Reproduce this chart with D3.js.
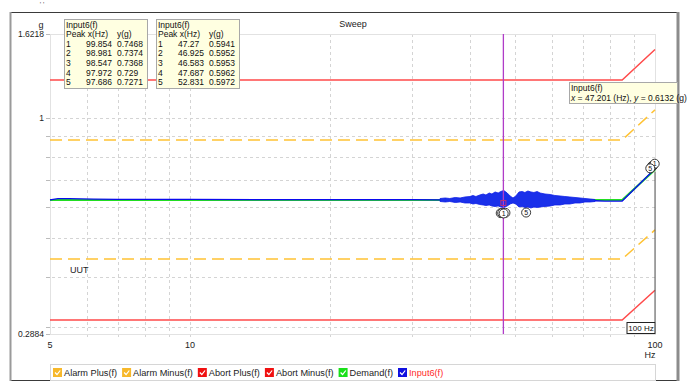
<!DOCTYPE html>
<html>
<head>
<meta charset="utf-8">
<script src="https://cdn.jsdelivr.net/npm/d3@7"></script>
<style>
body{margin:0;background:#fff}
svg{display:block;font-family:"Liberation Sans",Arial,sans-serif}
</style>
</head>
<body>
<script>

// profile break points (Hz) shared by demand and limit lines
var profFreq = [5, 85, 100];
var demandVal = [0.6237, 0.6237, 0.742];
var alarmPlusVal = [0.8811, 0.8811, 1.048];
var alarmMinusVal = [0.4441, 0.4441, 0.525];
var abortPlusVal = [1.2446, 1.2446, 1.484];
var abortMinusVal = [0.3126, 0.3126, 0.371];

// Input6 response, quiet parts
var inputFreq = [5, 5.2, 5.5, 6.2, 7, 10, 15, 20, 25, 30, 34.5, 40, 47.2, 55, 65, 74.3, 78, 85, 100];
var inputVal = [0.624, 0.629, 0.629, 0.627, 0.626, 0.626, 0.625, 0.625, 0.625, 0.625, 0.624, 0.622, 0.6132, 0.623, 0.623, 0.621, 0.62, 0.62, 0.7468];

// Input6 response, noisy band (upper / lower envelope)
var noiseFreq = [34.5, 35.4, 36.2, 37.2, 38.1, 39.0, 40.0, 40.6, 41.2, 42.0, 42.7, 43.3, 44.0, 44.6, 45.3, 46.0, 46.6, 47.3, 48.1, 48.8, 49.5, 50.2, 51.0, 51.8, 52.5, 53.3, 54.1, 54.9, 55.8, 56.6, 58.0, 59.5, 60.9, 62.5, 64.0, 65.6, 67.3, 69.0, 70.7, 72.5, 74.3];
var noiseHi = [0.6291, 0.6310, 0.6291, 0.6328, 0.6310, 0.6346, 0.6364, 0.6401, 0.6364, 0.6420, 0.6457, 0.6420, 0.6494, 0.6457, 0.6532, 0.6494, 0.6550, 0.6588, 0.6494, 0.6383, 0.6310, 0.6383, 0.6532, 0.6550, 0.6513, 0.6569, 0.6532, 0.6513, 0.6550, 0.6494, 0.6457, 0.6438, 0.6401, 0.6383, 0.6364, 0.6346, 0.6328, 0.6310, 0.6291, 0.6273, 0.6255];
var noiseLo = [0.6184, 0.6166, 0.6184, 0.6148, 0.6166, 0.6131, 0.6131, 0.6095, 0.6113, 0.6078, 0.6061, 0.6043, 0.6061, 0.6026, 0.6009, 0.6026, 0.5991, 0.5974, 0.6026, 0.6095, 0.6131, 0.6095, 0.5991, 0.6009, 0.5974, 0.5991, 0.5957, 0.5991, 0.5974, 0.5991, 0.6009, 0.6026, 0.6061, 0.6061, 0.6095, 0.6095, 0.6131, 0.6131, 0.6166, 0.6166, 0.6184];

// peak tables
var peakNo = [1, 2, 3, 4, 5];
var peaksAFreq = [99.854, 98.981, 98.547, 97.972, 97.686];
var peaksAVal = [0.7468, 0.7374, 0.7368, 0.729, 0.7271];
var peaksBFreq = [47.27, 46.925, 46.583, 47.687, 52.831];
var peaksBVal = [0.5941, 0.5952, 0.5953, 0.5962, 0.5972];

var cursorFreq = 47.201, cursorVal = 0.6132;
var refFreq = 100;

var xLabels = [5, 10, 100];
var yLabels = [1.6218, 1, 0.2884];

var legendNames = ["Alarm Plus(f)", "Alarm Minus(f)", "Abort Plus(f)", "Abort Minus(f)", "Demand(f)", "Input6(f)"];
var legendColors = ["#f7b82a", "#f7b82a", "#f01010", "#f01010", "#19e019", "#1010e0"];


var W = 690, H = 386;
var svg = d3.select("body").append("svg").attr("width", W).attr("height", H);

var x = d3.scaleLog().domain([5, 100]).range([50, 655]);
var y = d3.scaleLog().domain([yLabels[2], yLabels[0]]).range([334, 34]);

// outer frame
svg.append("rect").attr("x", 10.5).attr("y", 12.5).attr("width", 667).attr("height", 368)
    .attr("fill", "none").attr("stroke", "#3a3a3a");
svg.append("line").attr("x1", 678).attr("x2", 678).attr("y1", 12).attr("y2", 381)
    .attr("stroke", "#8c8c8c").attr("stroke-width", 3);
svg.append("line").attr("x1", 10.5).attr("x2", 10.5).attr("y1", 12).attr("y2", 381)
    .attr("stroke", "#9a9a9a").attr("stroke-width", 2);
svg.append("text").attr("x", 42).attr("y", 7).attr("font-size", 7).attr("fill", "#555")
    .attr("text-anchor", "middle").text("' '");

// grid
var xGrid = x.ticks().filter(function(d){ return d > 5 && d < 100; });
var yGrid = y.ticks();

svg.append("g").selectAll("line").data(xGrid).enter().append("line")
    .attr("x1", function(d){ return Math.round(x(d)) + 0.5; })
    .attr("x2", function(d){ return Math.round(x(d)) + 0.5; })
    .attr("y1", 34).attr("y2", 337)
    .attr("stroke", "#d4d4d4").attr("stroke-dasharray", "3,3");

svg.append("g").selectAll("line").data(yGrid).enter().append("line")
    .attr("x1", 46).attr("x2", 655)
    .attr("y1", function(d){ return Math.round(y(d)) + 0.5; })
    .attr("y2", function(d){ return Math.round(y(d)) + 0.5; })
    .attr("stroke", "#d4d4d4").attr("stroke-dasharray", "3,3");

svg.append("g").selectAll("line").data(yGrid).enter().append("line")
    .attr("x1", 46).attr("x2", 50)
    .attr("y1", function(d){ return Math.round(y(d)) + 0.5; })
    .attr("y2", function(d){ return Math.round(y(d)) + 0.5; })
    .attr("stroke", "#bbb");

// plot border
svg.append("rect").attr("x", 50.5).attr("y", 34.5).attr("width", 605).attr("height", 300)
    .attr("fill", "none").attr("stroke", "#e2e2e2");
svg.append("line").attr("x1", 46).attr("x2", 50).attr("y1", 34.5).attr("y2", 34.5).attr("stroke", "#bbb");
svg.append("line").attr("x1", 46).attr("x2", 50).attr("y1", 334.5).attr("y2", 334.5).attr("stroke", "#bbb");

// axis labels
svg.append("g").selectAll("text").data(yLabels).enter().append("text")
    .attr("x", 44).attr("y", function(d){ return y(d) + 3; })
    .attr("text-anchor", "end").attr("font-size", 8.5).attr("fill", "#222")
    .text(function(d){ return d; });
svg.append("text").attr("x", 41).attr("y", 28).attr("text-anchor", "middle")
    .attr("font-size", 9).attr("fill", "#222").text("g");

svg.append("g").selectAll("text").data(xLabels).enter().append("text")
    .attr("x", function(d){ return x(d); }).attr("y", 348)
    .attr("text-anchor", "middle").attr("font-size", 9).attr("fill", "#222")
    .text(function(d){ return d; });
svg.append("text").attr("x", 650).attr("y", 358).attr("text-anchor", "middle")
    .attr("font-size", 9).attr("fill", "#222").text("Hz");

svg.append("text").attr("x", 353).attr("y", 27).attr("text-anchor", "middle")
    .attr("font-size", 9).attr("fill", "#222").text("Sweep");
svg.append("text").attr("x", 70).attr("y", 273)
    .attr("font-size", 9).attr("fill", "#222").text("UUT");

// series
var line = d3.line().x(function(d){ return x(d[0]); }).y(function(d){ return y(d[1]); });
function pairs(fs, vs) { return fs.map(function(f, i){ return [f, vs[i]]; }); }

var plot = svg.append("g");

plot.append("path").datum(pairs(profFreq, abortPlusVal)).attr("d", line)
    .attr("fill", "none").attr("stroke", "#ff4a4a").attr("stroke-width", 1.5);
plot.append("path").datum(pairs(profFreq, abortMinusVal)).attr("d", line)
    .attr("fill", "none").attr("stroke", "#ff4a4a").attr("stroke-width", 1.5);
plot.append("path").datum(pairs(profFreq, alarmPlusVal)).attr("d", line)
    .attr("fill", "none").attr("stroke", "#ffc233").attr("stroke-width", 1.5).attr("stroke-dasharray", "12,6");
plot.append("path").datum(pairs(profFreq, alarmMinusVal)).attr("d", line)
    .attr("fill", "none").attr("stroke", "#ffc233").attr("stroke-width", 1.5).attr("stroke-dasharray", "12,6");

plot.append("path").datum(pairs(profFreq, demandVal)).attr("d", line)
    .attr("fill", "none").attr("stroke", "#22dd22").attr("stroke-width", 2);

plot.append("path").datum(pairs(inputFreq, inputVal)).attr("d", line)
    .attr("fill", "none").attr("stroke", "#0a0aee").attr("stroke-width", 1.3);

var band = d3.area()
    .x(function(d, i){ return x(noiseFreq[i]); })
    .y0(function(d, i){ return y(noiseLo[i]); })
    .y1(function(d, i){ return y(noiseHi[i]); });
plot.append("path").datum(noiseFreq).attr("d", band)
    .attr("fill", "#1a30ea").attr("stroke", "#0c1ee6").attr("stroke-width", 0.8);

// cursor
svg.append("line").attr("x1", x(cursorFreq)).attr("x2", x(cursorFreq)).attr("y1", 34).attr("y2", 334)
    .attr("stroke", "#b03cc8").attr("stroke-width", 1.3);
svg.append("rect").attr("x", x(cursorFreq) - 2.5).attr("y", y(cursorVal) - 2.5)
    .attr("width", 5).attr("height", 5).attr("fill", "none").attr("stroke", "#c03070");

// 100 Hz reference line
svg.append("line").attr("x1", x(refFreq)).attr("x2", x(refFreq))
    .attr("y1", y(peaksAVal[0]) + 3).attr("y2", 322)
    .attr("stroke", "#555").attr("stroke-width", 1);
svg.append("rect").attr("x", x(refFreq) - 28).attr("y", 322.5).attr("width", 28).attr("height", 11)
    .attr("fill", "#fff").attr("stroke", "#222");
svg.append("text").attr("x", x(refFreq) - 14).attr("y", 331).attr("text-anchor", "middle")
    .attr("font-size", 8).attr("fill", "#111").text(refFreq + " Hz");

// peak markers, drawn back to front
function markers(fs, vs, dy, order) {
    var g = svg.append("g");
    order.forEach(function(i) {
        var cx = x(fs[i]), cy = y(vs[i]) + dy;
        g.append("circle").attr("cx", cx).attr("cy", cy).attr("r", 4.5)
            .attr("fill", "#fff").attr("stroke", "#222").attr("stroke-width", 0.9);
        g.append("text").attr("x", cx).attr("y", cy + 2.6).attr("text-anchor", "middle")
            .attr("font-size", 7).attr("fill", "#111").text(peakNo[i]);
    });
}
markers(peaksAFreq, peaksAVal, -5, [1, 2, 3, 0, 4]);
markers(peaksBFreq, peaksBVal, 5, [4, 2, 1, 3, 0]);

// peak tables
function table(x0, fs, vs) {
    var g = svg.append("g").attr("transform", "translate(" + x0 + ",19)");
    g.append("rect").attr("x", 0.5).attr("y", 0.5).attr("width", 83).attr("height", 69)
        .attr("fill", "#ffffe1").attr("stroke", "#a8a8a8");
    var rows = [["Input6(f)", "", ""], ["Peak x(Hz)", "", "y(g)"]];
    peakNo.forEach(function(n, i){ rows.push([n, fs[i], vs[i]]); });
    rows.forEach(function(r, i) {
        var t = g.append("text").attr("y", 8.5 + i * 9.6).attr("font-size", 8.5).attr("fill", "#111");
        t.append("tspan").attr("x", 2).text(r[0]);
        if (r[1] !== "") t.append("tspan").attr("x", 22).text(r[1]);
        if (r[2] !== "") t.append("tspan").attr("x", 53).text(r[2]);
    });
}
table(64, peaksAFreq, peaksAVal);
table(156, peaksBFreq, peaksBVal);

// cursor tooltip
var tip = svg.append("g").attr("transform", "translate(569,82)");
tip.append("rect").attr("x", 0.5).attr("y", 0.5).attr("width", 108).attr("height", 21)
    .attr("fill", "#ffffe1").attr("stroke", "#a8a8a8");
tip.append("text").attr("x", 2).attr("y", 9).attr("font-size", 8.5).attr("fill", "#111").text("Input6(f)");
var tt = tip.append("text").attr("x", 2).attr("y", 18.5).attr("font-size", 8.5).attr("fill", "#111");
tt.append("tspan").attr("font-style", "italic").text("x");
tt.append("tspan").text(" = " + cursorFreq + " (Hz), ");
tt.append("tspan").attr("font-style", "italic").text("y");
tt.append("tspan").text(" = " + cursorVal + " (g)");

// legend
svg.append("rect").attr("x", 50.5).attr("y", 364.5).attr("width", 605).attr("height", 16)
    .attr("fill", "#fff").attr("stroke", "#d6d6d6");
var lx = 53;
legendNames.forEach(function(name, i) {
    var g = svg.append("g").attr("transform", "translate(" + lx + ",368)");
    g.append("rect").attr("width", 9).attr("height", 9).attr("fill", legendColors[i]);
    g.append("path").attr("d", "M2,4.5 L4,6.5 L7.2,2.5").attr("fill", "none")
        .attr("stroke", "#fff").attr("stroke-width", 1.2);
    var t = g.append("text").attr("x", 11).attr("y", 8).attr("font-size", 9.2)
        .attr("fill", i == legendNames.length - 1 ? "#ff2a2a" : "#222").text(name);
    lx += 11 + t.node().getComputedTextLength() + 5;
});

</script>
</body>
</html>
